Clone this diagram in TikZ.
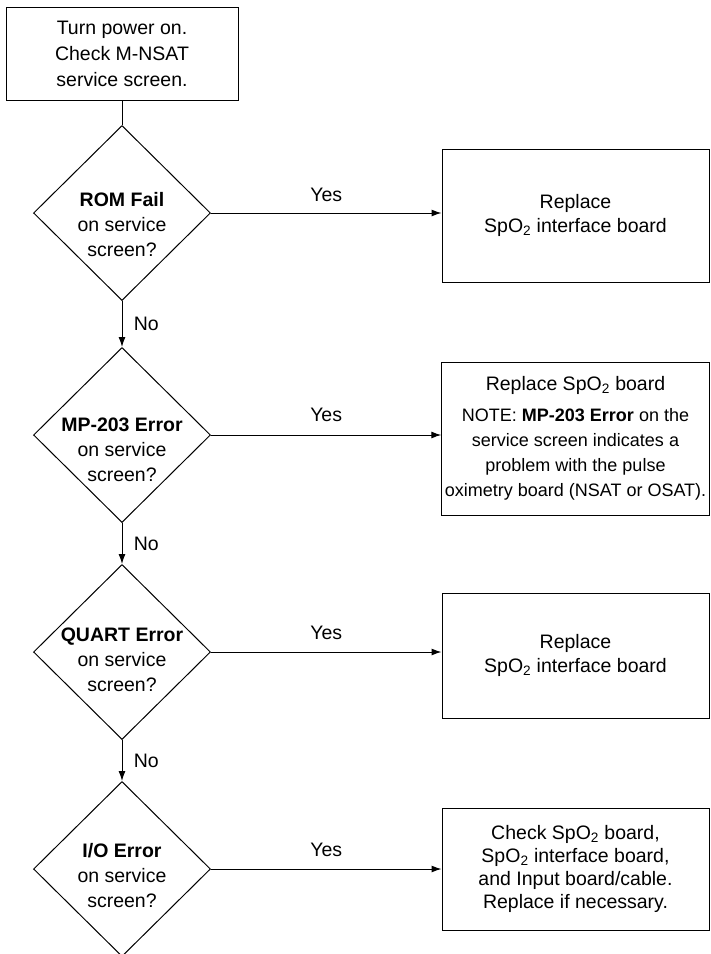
\documentclass[tikz,border=0pt]{standalone}
\usepackage{fontspec}
\setmainfont{Liberation Sans}
\usetikzlibrary{shapes.geometric, arrows.meta, positioning}

\begin{document}
\begin{tikzpicture}[
  x=1pt, y=-1pt,
  every node/.style={font=\fontsize{19.5}{24}\selectfont},
  block/.style={rectangle, draw, line width=1pt, align=center, inner sep=3pt},
  action/.style={block, minimum width=267pt},
  decision/.style={diamond, draw, line width=1pt, minimum width=177pt,
                   minimum height=175pt, inner sep=0pt},
  qtext/.style={align=center, font=\fontsize{19.5}{25}\selectfont},
  line/.style={line width=1pt},
  arrow/.style={-{Latex[length=10pt,width=7pt]}, line width=1pt}
]
\useasboundingbox (0,0) rectangle (711,954);
% left column
\node[block, minimum width=232pt, minimum height=93pt, font=\fontsize{19.5}{26}\selectfont]
                                    (start) at (122,53.5) {Turn power on.\\Check M-NSAT\\service screen.};
\node[decision]                     (q1) at (122,213) {};
\node[decision, below=46pt of q1]   (q2) {};
\node[decision, below=41pt of q2]   (q3) {};
\node[decision, below=41pt of q3]   (q4) {};
\node[qtext] (q1t) at ([yshift=-12pt]q1.center) {\textbf{ROM Fail}\\on service\\screen?};
\node[qtext] (q2t) at ([yshift=-15pt]q2.center) {\textbf{MP-203 Error}\\on service\\screen?};
\node[qtext] (q3t) at ([yshift=-8pt]q3.center)  {\textbf{QUART Error}\\on service\\screen?};
\node[qtext] (q4t) at ([yshift=-7pt]q4.center)  {\textbf{I/O Error}\\on service\\screen?};
% right column
\node[action, minimum height=133pt] (r1) at (575.5,215.5) {Replace\\SpO\textsubscript{2} interface board};
\node[action, minimum height=153pt, font=\fontsize{18}{25}\selectfont]
                                    (r2) at (575.5,438.5)
  {{\fontsize{19.5}{25}\selectfont Replace SpO\textsubscript{2} board}\\[6pt]
   NOTE: \textbf{MP-203 Error} on the\\service screen indicates a\\problem with the pulse\\oximetry board (NSAT or OSAT).};
\node[action, minimum height=125pt] (r3) at (575.5,655.5) {Replace\\SpO\textsubscript{2} interface board};
\node[action, minimum height=122pt, font=\fontsize{19.5}{23}\selectfont]
                                    (r4) at (575.5,869)
  {Check SpO\textsubscript{2} board,\\SpO\textsubscript{2} interface board,\\and Input board/cable.\\Replace if necessary.};

\draw[line]  (start) -- (q1);
\draw[arrow] (q1) -- node[right=8pt]{No} (q2);
\draw[arrow] (q2) -- node[right=8pt]{No} (q3);
\draw[arrow] (q3) -- node[right=8pt]{No} (q4);
\draw[arrow] (q1.east) -- node[above=7pt]{Yes} (q1.east -| r1.west);
\draw[arrow] (q2.east) -- node[above=9pt]{Yes} (q2.east -| r2.west);
\draw[arrow] (q3.east) -- node[above=8pt]{Yes} (q3.east -| r3.west);
\draw[arrow] (q4.east) -- node[above=8pt]{Yes} (q4.east -| r4.west);
\end{tikzpicture}
\end{document}
